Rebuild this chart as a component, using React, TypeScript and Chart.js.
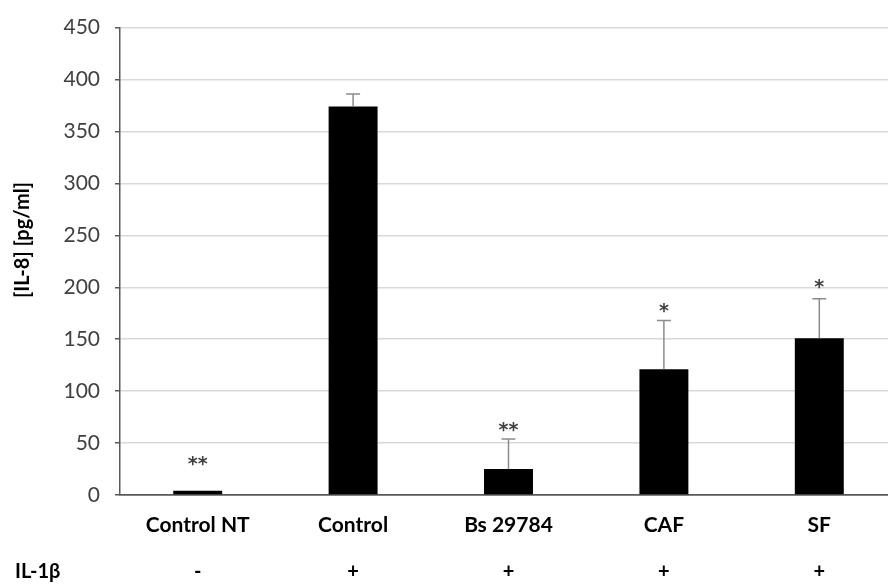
import React, { useEffect, useRef } from "react";
import { Chart, registerables } from "chart.js";

Chart.register(...registerables);

const categories = ["Control NT", "Control", "Bs 29784", "CAF", "SF"];
const il1bRow = ["-", "+", "+", "+", "+"];
const means = [4, 374, 25, 121, 151];
const errors = [0, 12, 29, 47, 38];
const stars = ["**", "", "**", "*", "*"];
const starValues = [30, 0, 63, 177, 200];
const yTicksMax = 450;
const yStep = 50;

const FONT = "Lato, 'Open Sans', 'DejaVu Sans', sans-serif";

const overlayPlugin = {
  id: "overlay",
  afterDatasetsDraw(chart: any) {
    const ctx = chart.ctx;
    const x = chart.scales.x;
    const y = chart.scales.y;
    ctx.save();
    // error bars
    ctx.strokeStyle = "#8c8c8c";
    ctx.lineWidth = 1.5;
    means.forEach((m, i) => {
      if (!errors[i]) return;
      const cx = x.getPixelForValue(i);
      const y0 = y.getPixelForValue(m);
      const y1 = y.getPixelForValue(m + errors[i]);
      ctx.beginPath();
      ctx.moveTo(cx, y0);
      ctx.lineTo(cx, y1);
      ctx.moveTo(cx - 7, y1);
      ctx.lineTo(cx + 7, y1);
      ctx.stroke();
    });
    // stars
    ctx.fillStyle = "#404040";
    ctx.font = `bold 19px 'DejaVu Sans', sans-serif`;
    ctx.textAlign = "center";
    ctx.textBaseline = "alphabetic";
    stars.forEach((s, i) => {
      if (!s) return;
      const cx = x.getPixelForValue(i);
      const cy = y.getPixelForValue(starValues[i]);
      ctx.fillText(s, cx, cy + 6);
    });
    // IL-1β row
    ctx.fillStyle = "#000000";
    ctx.font = `bold 20px ${FONT}`;
    ctx.textBaseline = "middle";
    ctx.textAlign = "left";
    ctx.fillText("IL-1β", 15, 572);
    ctx.textAlign = "center";
    il1bRow.forEach((s, i) => {
      ctx.fillText(s, x.getPixelForValue(i), 572);
    });
    // y title
    ctx.translate(23, 240);
    ctx.rotate(-Math.PI / 2);
    ctx.font = `bold 20px ${FONT}`;
    ctx.fillStyle = "#000000";
    ctx.textAlign = "center";
    ctx.textBaseline = "middle";
    ctx.fillText("[IL-8] [pg/ml]", 0, 0);
    ctx.restore();
  },
};

export default function App() {
  const ref = useRef<HTMLCanvasElement>(null);
  useEffect(() => {
    if (!ref.current) return;
    const chart = new Chart(ref.current, {
      type: "bar",
      data: {
        labels: categories,
        datasets: [
          {
            data: means,
            backgroundColor: "#000000",
            borderWidth: 0,
            barPercentage: 0.315,
            categoryPercentage: 1,
          },
        ],
      },
      options: {
        responsive: false,
        animation: false,
        devicePixelRatio: 1,
        layout: { padding: { top: 16, right: 0, bottom: 0, left: 0 } },
        plugins: { legend: { display: false }, tooltip: { enabled: false } },
        scales: {
          x: {
            afterFit(scale: any) {
              scale.height = 92;
            },
            grid: { display: false, drawTicks: false },
            border: { color: "#595959", width: 1.5 },
            ticks: {
              padding: 18,
              color: "#000000",
              font: { family: FONT, size: 21, weight: "bold" },
              maxRotation: 0,
              autoSkip: false,
            },
          },
          y: {
            min: 0,
            max: yTicksMax,
            afterFit(scale: any) {
              scale.width = 120;
            },
            grid: {
              color: (c: any) => (c.tick && c.tick.value === 0 ? "#595959" : "#d9d9d9"),
              tickColor: "#595959",
              tickLength: 5,
              lineWidth: 1.5,
            },
            border: { color: "#595959", width: 1.5 },
            ticks: {
              stepSize: yStep,
              padding: 15,
              color: "#404040",
              font: { family: FONT, size: 21 },
            },
          },
        },
      },
      plugins: [overlayPlugin],
    });
    return () => chart.destroy();
  }, []);
  return (
    <div
      style={{
        position: "fixed",
        left: 0,
        top: 0,
        width: 888,
        height: 587,
        overflow: "hidden",
        background: "#ffffff",
      }}
    >
      <canvas ref={ref} width={897} height={587} style={{ display: "block" }} />
    </div>
  );
}
